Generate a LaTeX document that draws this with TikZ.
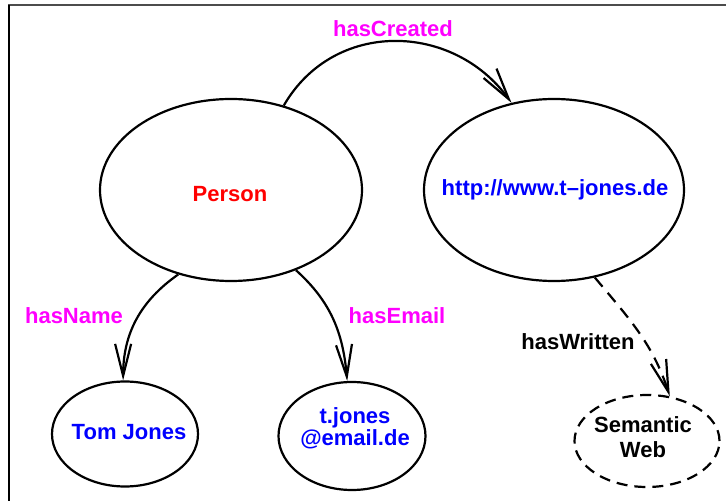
\documentclass[tikz,border=0pt]{standalone}
\usepackage{fontspec}
\setmainfont{Liberation Sans}
\usetikzlibrary{shapes.geometric,arrows.meta}

\definecolor{propmag}{RGB}{255,0,255}
\definecolor{classred}{RGB}{255,0,0}
\definecolor{valblue}{RGB}{0,0,255}

\tikzset{
  res/.style={ellipse, draw, line width=2.2pt, inner sep=0pt},
  litres/.style={res, dash pattern=on 11pt off 7pt},
  txt/.style={font=\fontsize{22}{23}\selectfont\bfseries, inner sep=0pt, align=center},
  prop/.style={txt, text=propmag, anchor=base},
  link/.style={line width=2.2pt, -{Straight Barb[length=32pt,width=16pt]}},
  dashlink/.style={link, dash pattern=on 12pt off 8pt},
}

\begin{document}
\begin{tikzpicture}[x=1pt,y=1pt]
\useasboundingbox (0,0) rectangle (726,501);

% partial frame
\draw[line width=2pt, black!70] (8,496) -- (726,496);
\draw[line width=1.2pt] (9,496) -- (9,0);

% resources
\node[res, minimum width=262pt, minimum height=182pt] (person) at (231,311) {};
\node[res, minimum width=260pt, minimum height=182pt] (url)    at (554,311) {};
\node[res, minimum width=146pt, minimum height=105pt] (tom)    at (125,67)  {};
\node[res, minimum width=147pt, minimum height=108pt] (email)  at (352,65)  {};
\node[litres, minimum width=145pt, minimum height=92pt] (sw)   at (647,60)  {};

% resource texts
\node[txt, text=classred, anchor=base] (personT) at (230,299) {Person};
\node[txt, text=valblue, anchor=base] (urlT) at (555,305) {http://www.t–jones.de};
\node[txt, text=valblue, anchor=base] (tomT) at (129,61) {Tom Jones};
\node[txt, text=valblue, font=\fontsize{22}{22}\selectfont\bfseries] (emailT) at (355,72.4) {t.jones\\@email.de};
\node[txt, font=\fontsize{22}{25}\selectfont\bfseries] (swT) at (643,63.5) {Semantic\\Web};

% properties
\draw[link] (person.58) to[out=60, in=126, looseness=1.12] (url.116);
\draw[link] (person.238) to[out=215, in=90] (tom.92);
\draw[link] (person.309) to[out=-42, in=95] (email.95);
\draw[dashlink] (url.295) to[out=-50, in=108] (sw.63);

% property labels
\node[prop] (hasCreated) at (393,464) {hasCreated};
\node[prop] (hasName) at (74,177) {hasName};
\node[prop] (hasEmail) at (397,177) {hasEmail};
\node[txt, anchor=base] (hasWritten) at (578,151) {hasWritten};
\end{tikzpicture}
\end{document}
